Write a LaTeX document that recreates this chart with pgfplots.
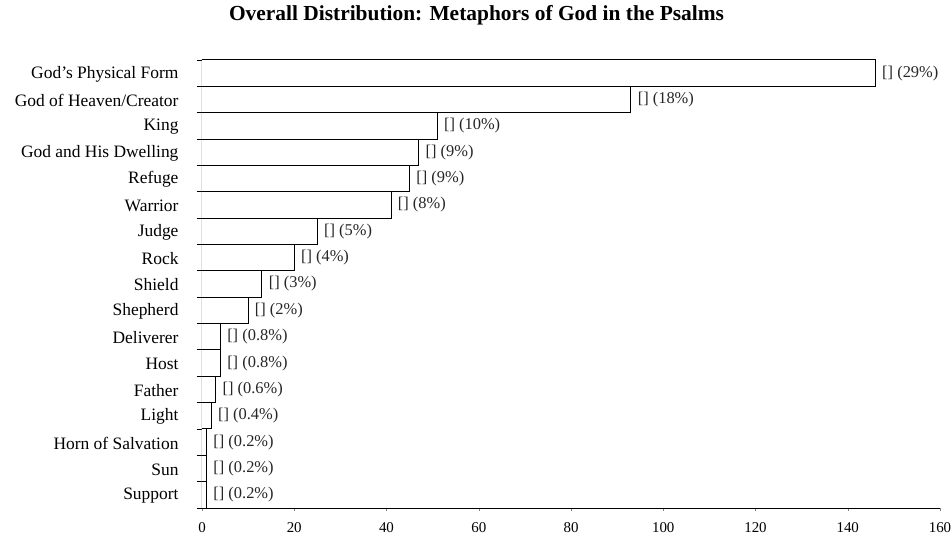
\documentclass[border=0pt]{standalone}
\usepackage{fontspec}
\setmainfont{Liberation Serif}
\usepackage{pgfplots}
\pgfplotsset{compat=1.18}
\usepackage{pgfplotstable}

\pgfplotstableread[col sep=comma]{
pos,val,lab
16,146,{[] (29\%)}
15,93,{[] (18\%)}
14,51,{[] (10\%)}
13,47,{[] (9\%)}
12,45,{[] (9\%)}
11,41,{[] (8\%)}
10,25,{[] (5\%)}
9,20,{[] (4\%)}
8,13,{[] (3\%)}
7,10,{[] (2\%)}
6,4,{[] (0.8\%)}
5,4,{[] (0.8\%)}
4,3,{[] (0.6\%)}
3,2,{[] (0.4\%)}
2,1,{[] (0.2\%)}
1,1,{[] (0.2\%)}
0,1,{[] (0.2\%)}
}\datatable

\begin{document}
\begin{tikzpicture}
\begin{axis}[
  xbar, bar width=1,
  scale only axis, width=738bp, height=448bp,
  xmin=0, xmax=160, ymin=-0.5, ymax=16.5,
  axis x line*=bottom, axis y line*=left,
  axis line style={black, line width=0.8pt},
  xtick={0,20,...,160},
  ytick={0,...,16},
  yticklabels={Support, Sun, Horn of Salvation, Light, Father, Host, Deliverer, Shepherd, Shield, Rock, Judge, Warrior, Refuge, God and His Dwelling, King, God of Heaven/Creator, God's Physical Form},
  minor ytick={-0.5,0.5,...,16.5},
  tick align=outside,
  major tick length=3bp,
  minor tick length=5bp,
  major y tick style={draw=none},
  minor y tick style={black, line width=0.8pt},
  major x tick style={black!50},
  yticklabel style={font=\fontsize{17.5}{19}\selectfont, xshift=-17bp, yshift=-1bp},
  xticklabel style={font=\fontsize{15}{17}\selectfont, yshift=-8bp},
  /pgf/number format/assume math mode=true,
  title={Overall Distribution: Metaphors of God in the Psalms},
  title style={at={(0.372,1)}, anchor=center, yshift=39bp, font=\bfseries\fontsize{21.5}{24}\selectfont},
  nodes near coords,
  point meta=explicit symbolic,
  nodes near coords style={anchor=west, font=\fontsize{16.5}{18}\selectfont, text=black!85, xshift=3bp},
]
\addplot[fill=white, draw=black, line width=1pt] table[x=val, y=pos, meta=lab] {\datatable};
\coordinate (bl) at (rel axis cs:0,0);
\coordinate (tr) at (rel axis cs:1,1);
\end{axis}
\pgfresetboundingbox
\path ([shift={(-202bp,-30bp)}]bl) rectangle ([shift={(12bp,60bp)}]tr);
\end{tikzpicture}
\end{document}
